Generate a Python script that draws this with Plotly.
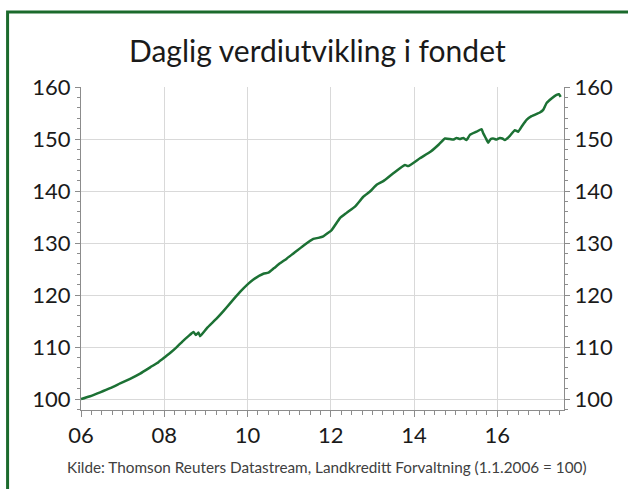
import plotly.graph_objects as go

# Fund index (1.1.2006 = 100), sampled along the daily series
years = [
    2006.00, 2006.20, 2006.46, 2006.70, 2006.94, 2007.18, 2007.42, 2007.70,
    2007.86, 2008.02, 2008.16, 2008.30, 2008.44, 2008.58,
    2008.70, 2008.76, 2008.82, 2008.86, 2009.02, 2009.26, 2009.42, 2009.58, 2009.82,
    2010.02, 2010.14, 2010.38, 2010.50, 2010.64, 2010.78, 2010.94, 2011.10, 2011.34, 2011.58,
    2011.70, 2011.82, 2012.02, 2012.22, 2012.38, 2012.58, 2012.78, 2012.94,
    2013.10, 2013.26, 2013.50, 2013.78, 2013.86, 2014.14, 2014.40, 2014.60,
    2014.74, 2014.86, 2014.94, 2015.02, 2015.10, 2015.18, 2015.26, 2015.34,
    2015.50, 2015.62, 2015.66, 2015.72, 2015.78, 2015.84, 2015.90, 2015.98,
    2016.06, 2016.12, 2016.18, 2016.30, 2016.42, 2016.50, 2016.60, 2016.70,
    2016.82, 2017.02, 2017.10, 2017.18, 2017.30, 2017.42, 2017.48, 2017.52,
]
index_values = [
    100.0, 100.5, 101.3, 102.1, 103.0, 103.9, 104.9, 106.3,
    107.1, 108.1, 109.0, 110.0, 111.1, 112.1,
    112.9, 112.3, 112.8, 112.1, 113.6, 115.5, 116.9, 118.4, 120.6,
    122.2, 123.0, 124.1, 124.3, 125.2, 126.1, 127.0, 128.0, 129.5, 130.8,
    131.0, 131.3, 132.5, 134.8, 135.8, 137.0, 138.9, 139.9,
    141.2, 141.9, 143.4, 145.0, 144.8, 146.3, 147.6, 149.0,
    150.1, 150.0, 149.9, 150.2, 150.0, 150.2, 149.8, 150.8,
    151.4, 151.9, 151.1, 150.2, 149.3, 150.0, 150.1, 149.9,
    150.2, 150.1, 149.8, 150.6, 151.7, 151.4, 152.6, 153.7,
    154.4, 155.1, 155.6, 156.9, 157.8, 158.5, 158.6, 158.1,
]

tick_years = [2006, 2008, 2010, 2012, 2014, 2016]
tick_labels = ["06", "08", "10", "12", "14", "16"]
y_ticks = [100, 110, 120, 130, 140, 150, 160]

title_text = "Daglig verdiutvikling i fondet"
source_text = "Kilde: Thomson Reuters Datastream, Landkreditt Forvaltning (1.1.2006 = 100)"

FONT = "Lato"
LINE_GREEN = "#1c7134"
FRAME_GREEN = "#1b6a2c"
AXIS_GREY = "#8c8c8c"
GRID_GREY = "#d9d9d9"

X_RANGE = [2006, 2017.6]
Y_RANGE = [97.9, 160]

fig = go.Figure()
fig.add_trace(go.Scatter(
    x=years, y=index_values, mode="lines",
    line=dict(color=LINE_GREEN, width=2.5, shape="spline", smoothing=0.4),
    hoverinfo="skip", showlegend=False,
))
# same series on the mirrored right-hand axis (invisible) so it gets drawn
fig.add_trace(go.Scatter(
    x=years, y=index_values, mode="lines", yaxis="y2",
    line=dict(color="rgba(0,0,0,0)", width=0),
    hoverinfo="skip", showlegend=False,
))

common_y = dict(
    range=Y_RANGE, tickvals=y_ticks, ticks="outside", ticklen=5,
    tickcolor=AXIS_GREY, showline=True, linecolor=AXIS_GREY, linewidth=1,
    tickfont=dict(family=FONT, size=22, color="#1a1a1a"),
    minor=dict(dtick=2, ticks="outside", ticklen=3, tickcolor=AXIS_GREY, showgrid=False),
    zeroline=False, fixedrange=True,
)

fig.update_layout(
    width=628, height=489,
    margin=dict(l=81, r=64, t=87, b=79),
    paper_bgcolor="white", plot_bgcolor="white",
    xaxis=dict(
        range=X_RANGE, tickvals=tick_years, ticktext=tick_labels,
        ticks="outside", ticklen=6, tickcolor=AXIS_GREY,
        showline=True, linecolor=AXIS_GREY, linewidth=1,
        showgrid=True, gridcolor=GRID_GREY, gridwidth=1,
        tickfont=dict(family=FONT, size=22, color="#1a1a1a"),
        minor=dict(dtick=0.25, tick0=2006, ticks="outside", ticklen=4,
                   tickcolor=AXIS_GREY, showgrid=False),
        zeroline=False,
    ),
    yaxis=dict(showgrid=True, gridcolor=GRID_GREY, gridwidth=1, side="left", **common_y),
    yaxis2=dict(overlaying="y", side="right", showgrid=False, **common_y),
    annotations=[
        dict(text=title_text, xref="paper", yref="paper", x=0.49, y=1.115,
             showarrow=False, xanchor="center", yanchor="middle",
             font=dict(family=FONT, size=30, color="#1a1a1a")),
        dict(text=source_text, xref="paper", yref="paper", x=0.509, y=-0.176,
             showarrow=False, xanchor="center", yanchor="middle",
             font=dict(family=FONT, size=15.3, color="#404040")),
    ],
    shapes=[
        # green frame around the chart (its right and bottom edges lie off the page)
        dict(type="rect", xref="paper", yref="paper",
             x0=-0.152, x1=1.25, y0=-0.35, y1=1.232,
             line=dict(color=FRAME_GREEN, width=3), fillcolor="rgba(0,0,0,0)",
             layer="above"),
    ],
)

fig.write_html("out.html")
